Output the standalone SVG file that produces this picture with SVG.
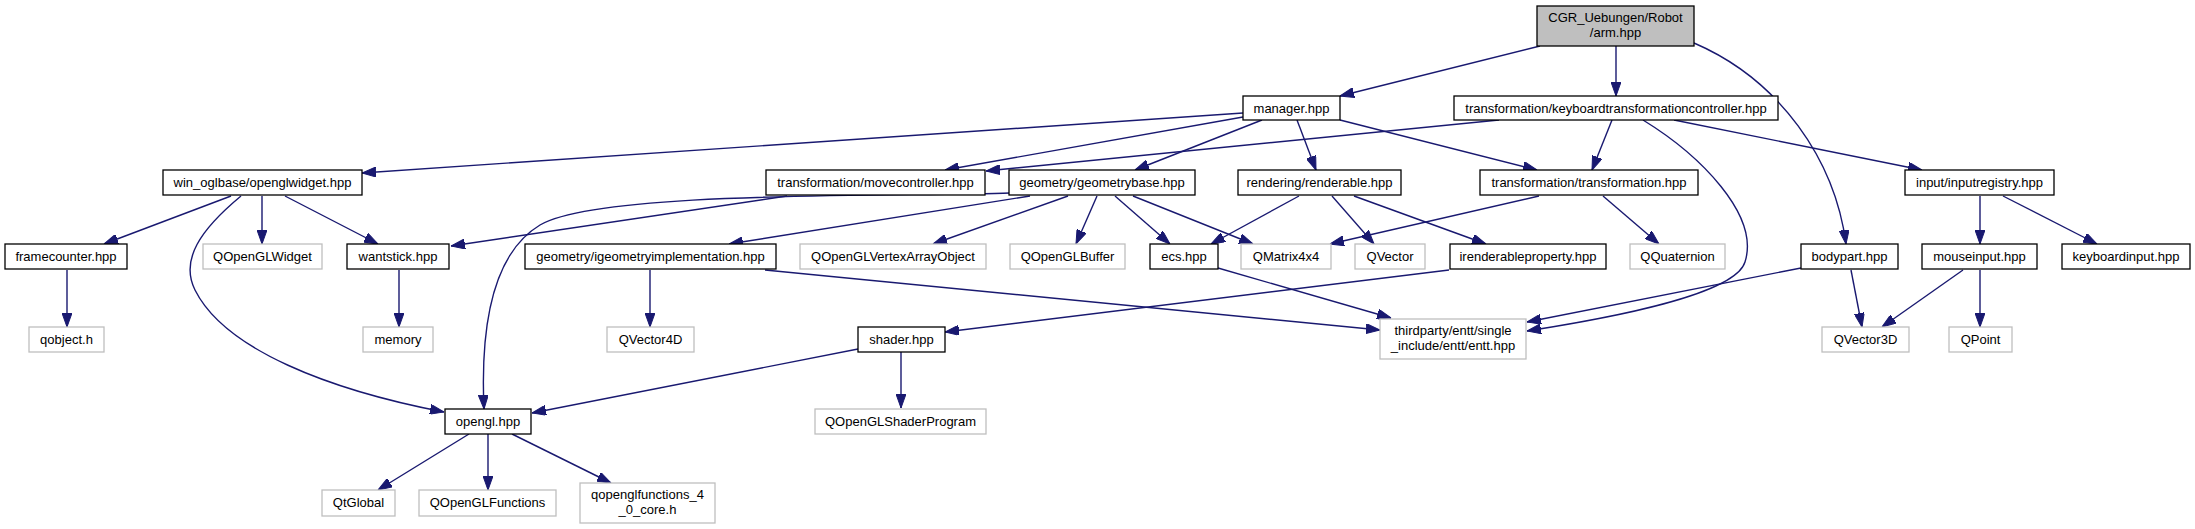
<svg xmlns="http://www.w3.org/2000/svg" width="2195" height="529" viewBox="0 0 2195 529">
<style>
.n rect{fill:#fff;stroke:#000;stroke-width:1.3}
.g rect{fill:#fff;stroke:#bfbfbf;stroke-width:1.3}
.r rect{fill:#bfbfbf;stroke:#000;stroke-width:1.3}
text{font-family:"Liberation Sans",Arial,sans-serif;font-size:13px;fill:#000;text-anchor:middle}
.e path{fill:none;stroke:#191970;stroke-width:1.4;marker-end:url(#ah)}
</style>
<defs>
<marker id="ah" markerUnits="userSpaceOnUse" markerWidth="14" markerHeight="10" refX="14" refY="5" orient="auto">
<path d="M0,0 L14,5 L0,10 z" fill="#191970" stroke="#191970" stroke-width="1"/>
</marker>
</defs>
<rect width="2195" height="529" fill="#fff"/>
<g class="e" id="connectors">
<path d="M1540,46 L1340,96"/>
<path d="M1616,46 L1616,96"/>
<path d="M1694,43 C1780,80 1835,160 1846,244"/>
<path d="M1243,113 L362,173"/>
<path d="M1243,117 L945,170"/>
<path d="M1262,120 L1135,170"/>
<path d="M1297,120 L1316,170"/>
<path d="M1340,120 L1537,170"/>
<path d="M1499,120 L986,171"/>
<path d="M1612,120 L1592,170"/>
<path d="M1643,120 C1700,155 1760,215 1745,262 C1735,295 1610,318 1527,331"/>
<path d="M1674,120 L1922,170"/>
<path d="M231,196 L104,244"/>
<path d="M262,196 L262,244"/>
<path d="M285,196 L378,244"/>
<path d="M241,196 C200,230 180,260 195,290 C225,350 330,390 444,412"/>
<path d="M787,196 L451,246"/>
<path d="M1010,193 C900,197 600,190 540,225 C495,252 480,320 484,409"/>
<path d="M1030,196 L729,244"/>
<path d="M1068,196 L933,244"/>
<path d="M1097,196 L1076,244"/>
<path d="M1115,196 L1170,244"/>
<path d="M1133,196 L1253,244"/>
<path d="M1299,196 L1211,244"/>
<path d="M1332,196 L1374,244"/>
<path d="M1354,196 L1486,244"/>
<path d="M1539,196 L1330,244"/>
<path d="M1603,196 L1659,244"/>
<path d="M1980,196 L1980,244"/>
<path d="M2003,196 L2097,244"/>
<path d="M67,270 L67,327"/>
<path d="M399,270 L399,327"/>
<path d="M650,270 L650,327"/>
<path d="M765,270 L1380,330"/>
<path d="M1218,268 L1391,318"/>
<path d="M1449,270 L945,332"/>
<path d="M1801,268 L1527,322"/>
<path d="M1851,270 L1862,327"/>
<path d="M1963,270 L1882,327"/>
<path d="M1980,270 L1980,327"/>
<path d="M858,349 L532,413"/>
<path d="M901,352 L901,408"/>
<path d="M469,434 L378,490"/>
<path d="M488,434 L488,490"/>
<path d="M512,434 L611,483"/>
</g>
<g id="root" class="r"><rect x="1537" y="6" width="157" height="40"/><text x="1615.5" y="22">CGR_Uebungen/Robot</text><text x="1615.5" y="37">/arm.hpp</text></g>
<g id="manager" class="n"><rect x="1243" y="96" width="97" height="24"/><text x="1291.5" y="113">manager.hpp</text></g>
<g id="kbtc" class="n"><rect x="1454" y="96" width="324" height="24"/><text x="1616" y="113">transformation/keyboardtransformationcontroller.hpp</text></g>
<g id="openglwidget" class="n"><rect x="163" y="170" width="199" height="25"/><text x="262.5" y="187">win_oglbase/openglwidget.hpp</text></g>
<g id="movecontroller" class="n"><rect x="766" y="170" width="219" height="25"/><text x="875.5" y="187">transformation/movecontroller.hpp</text></g>
<g id="geometrybase" class="n"><rect x="1009" y="170" width="186" height="25"/><text x="1102" y="187">geometry/geometrybase.hpp</text></g>
<g id="renderable" class="n"><rect x="1238" y="170" width="163" height="25"/><text x="1319.5" y="187">rendering/renderable.hpp</text></g>
<g id="transformation" class="n"><rect x="1480" y="170" width="218" height="25"/><text x="1589" y="187">transformation/transformation.hpp</text></g>
<g id="inputregistry" class="n"><rect x="1905" y="170" width="149" height="25"/><text x="1979.5" y="187">input/inputregistry.hpp</text></g>
<g id="framecounter" class="n"><rect x="5" y="244" width="122" height="25"/><text x="66" y="261">framecounter.hpp</text></g>
<g id="qopenglwidget" class="g"><rect x="203" y="244" width="119" height="25"/><text x="262.5" y="261">QOpenGLWidget</text></g>
<g id="wantstick" class="n"><rect x="347" y="244" width="102" height="25"/><text x="398" y="261">wantstick.hpp</text></g>
<g id="igeom" class="n"><rect x="525" y="244" width="251" height="25"/><text x="650.5" y="261">geometry/igeometryimplementation.hpp</text></g>
<g id="qvao" class="g"><rect x="800" y="244" width="186" height="25"/><text x="893" y="261">QOpenGLVertexArrayObject</text></g>
<g id="qbuffer" class="g"><rect x="1010" y="244" width="115" height="25"/><text x="1067.5" y="261">QOpenGLBuffer</text></g>
<g id="ecs" class="n"><rect x="1150" y="244" width="68" height="25"/><text x="1184" y="261">ecs.hpp</text></g>
<g id="qmatrix" class="g"><rect x="1241" y="244" width="90" height="25"/><text x="1286" y="261">QMatrix4x4</text></g>
<g id="qvector" class="g"><rect x="1355" y="244" width="70" height="25"/><text x="1390" y="261">QVector</text></g>
<g id="irenderable" class="n"><rect x="1450" y="244" width="156" height="25"/><text x="1528" y="261">irenderableproperty.hpp</text></g>
<g id="qquaternion" class="g"><rect x="1630" y="244" width="95" height="25"/><text x="1677.5" y="261">QQuaternion</text></g>
<g id="bodypart" class="n"><rect x="1801" y="244" width="97" height="25"/><text x="1849.5" y="261">bodypart.hpp</text></g>
<g id="mouseinput" class="n"><rect x="1922" y="244" width="115" height="25"/><text x="1979.5" y="261">mouseinput.hpp</text></g>
<g id="keyboardinput" class="n"><rect x="2062" y="244" width="128" height="25"/><text x="2126" y="261">keyboardinput.hpp</text></g>
<g id="qobject" class="g"><rect x="29" y="327" width="75" height="25"/><text x="66.5" y="344">qobject.h</text></g>
<g id="memory" class="g"><rect x="363" y="327" width="70" height="25"/><text x="398" y="344">memory</text></g>
<g id="qvector4d" class="g"><rect x="607" y="327" width="87" height="25"/><text x="650.5" y="344">QVector4D</text></g>
<g id="shader" class="n"><rect x="858" y="327" width="87" height="25"/><text x="901.5" y="344">shader.hpp</text></g>
<g id="entt" class="g"><rect x="1380" y="319" width="146" height="40"/><text x="1453" y="335">thirdparty/entt/single</text><text x="1453" y="350">_include/entt/entt.hpp</text></g>
<g id="qvector3d" class="g"><rect x="1822" y="327" width="87" height="25"/><text x="1865.5" y="344">QVector3D</text></g>
<g id="qpoint" class="g"><rect x="1949" y="327" width="63" height="25"/><text x="1980.5" y="344">QPoint</text></g>
<g id="opengl" class="n"><rect x="445" y="409" width="86" height="25"/><text x="488" y="426">opengl.hpp</text></g>
<g id="qshaderprogram" class="g"><rect x="815" y="409" width="171" height="25"/><text x="900.5" y="426">QOpenGLShaderProgram</text></g>
<g id="qtglobal" class="g"><rect x="322" y="490" width="73" height="26"/><text x="358.5" y="507">QtGlobal</text></g>
<g id="qopenglfunctions" class="g"><rect x="419" y="490" width="137" height="26"/><text x="487.5" y="507">QOpenGLFunctions</text></g>
<g id="qopenglfunctions40" class="g"><rect x="580" y="483" width="135" height="40"/><text x="647.5" y="499">qopenglfunctions_4</text><text x="647.5" y="514">_0_core.h</text></g>
</svg>
